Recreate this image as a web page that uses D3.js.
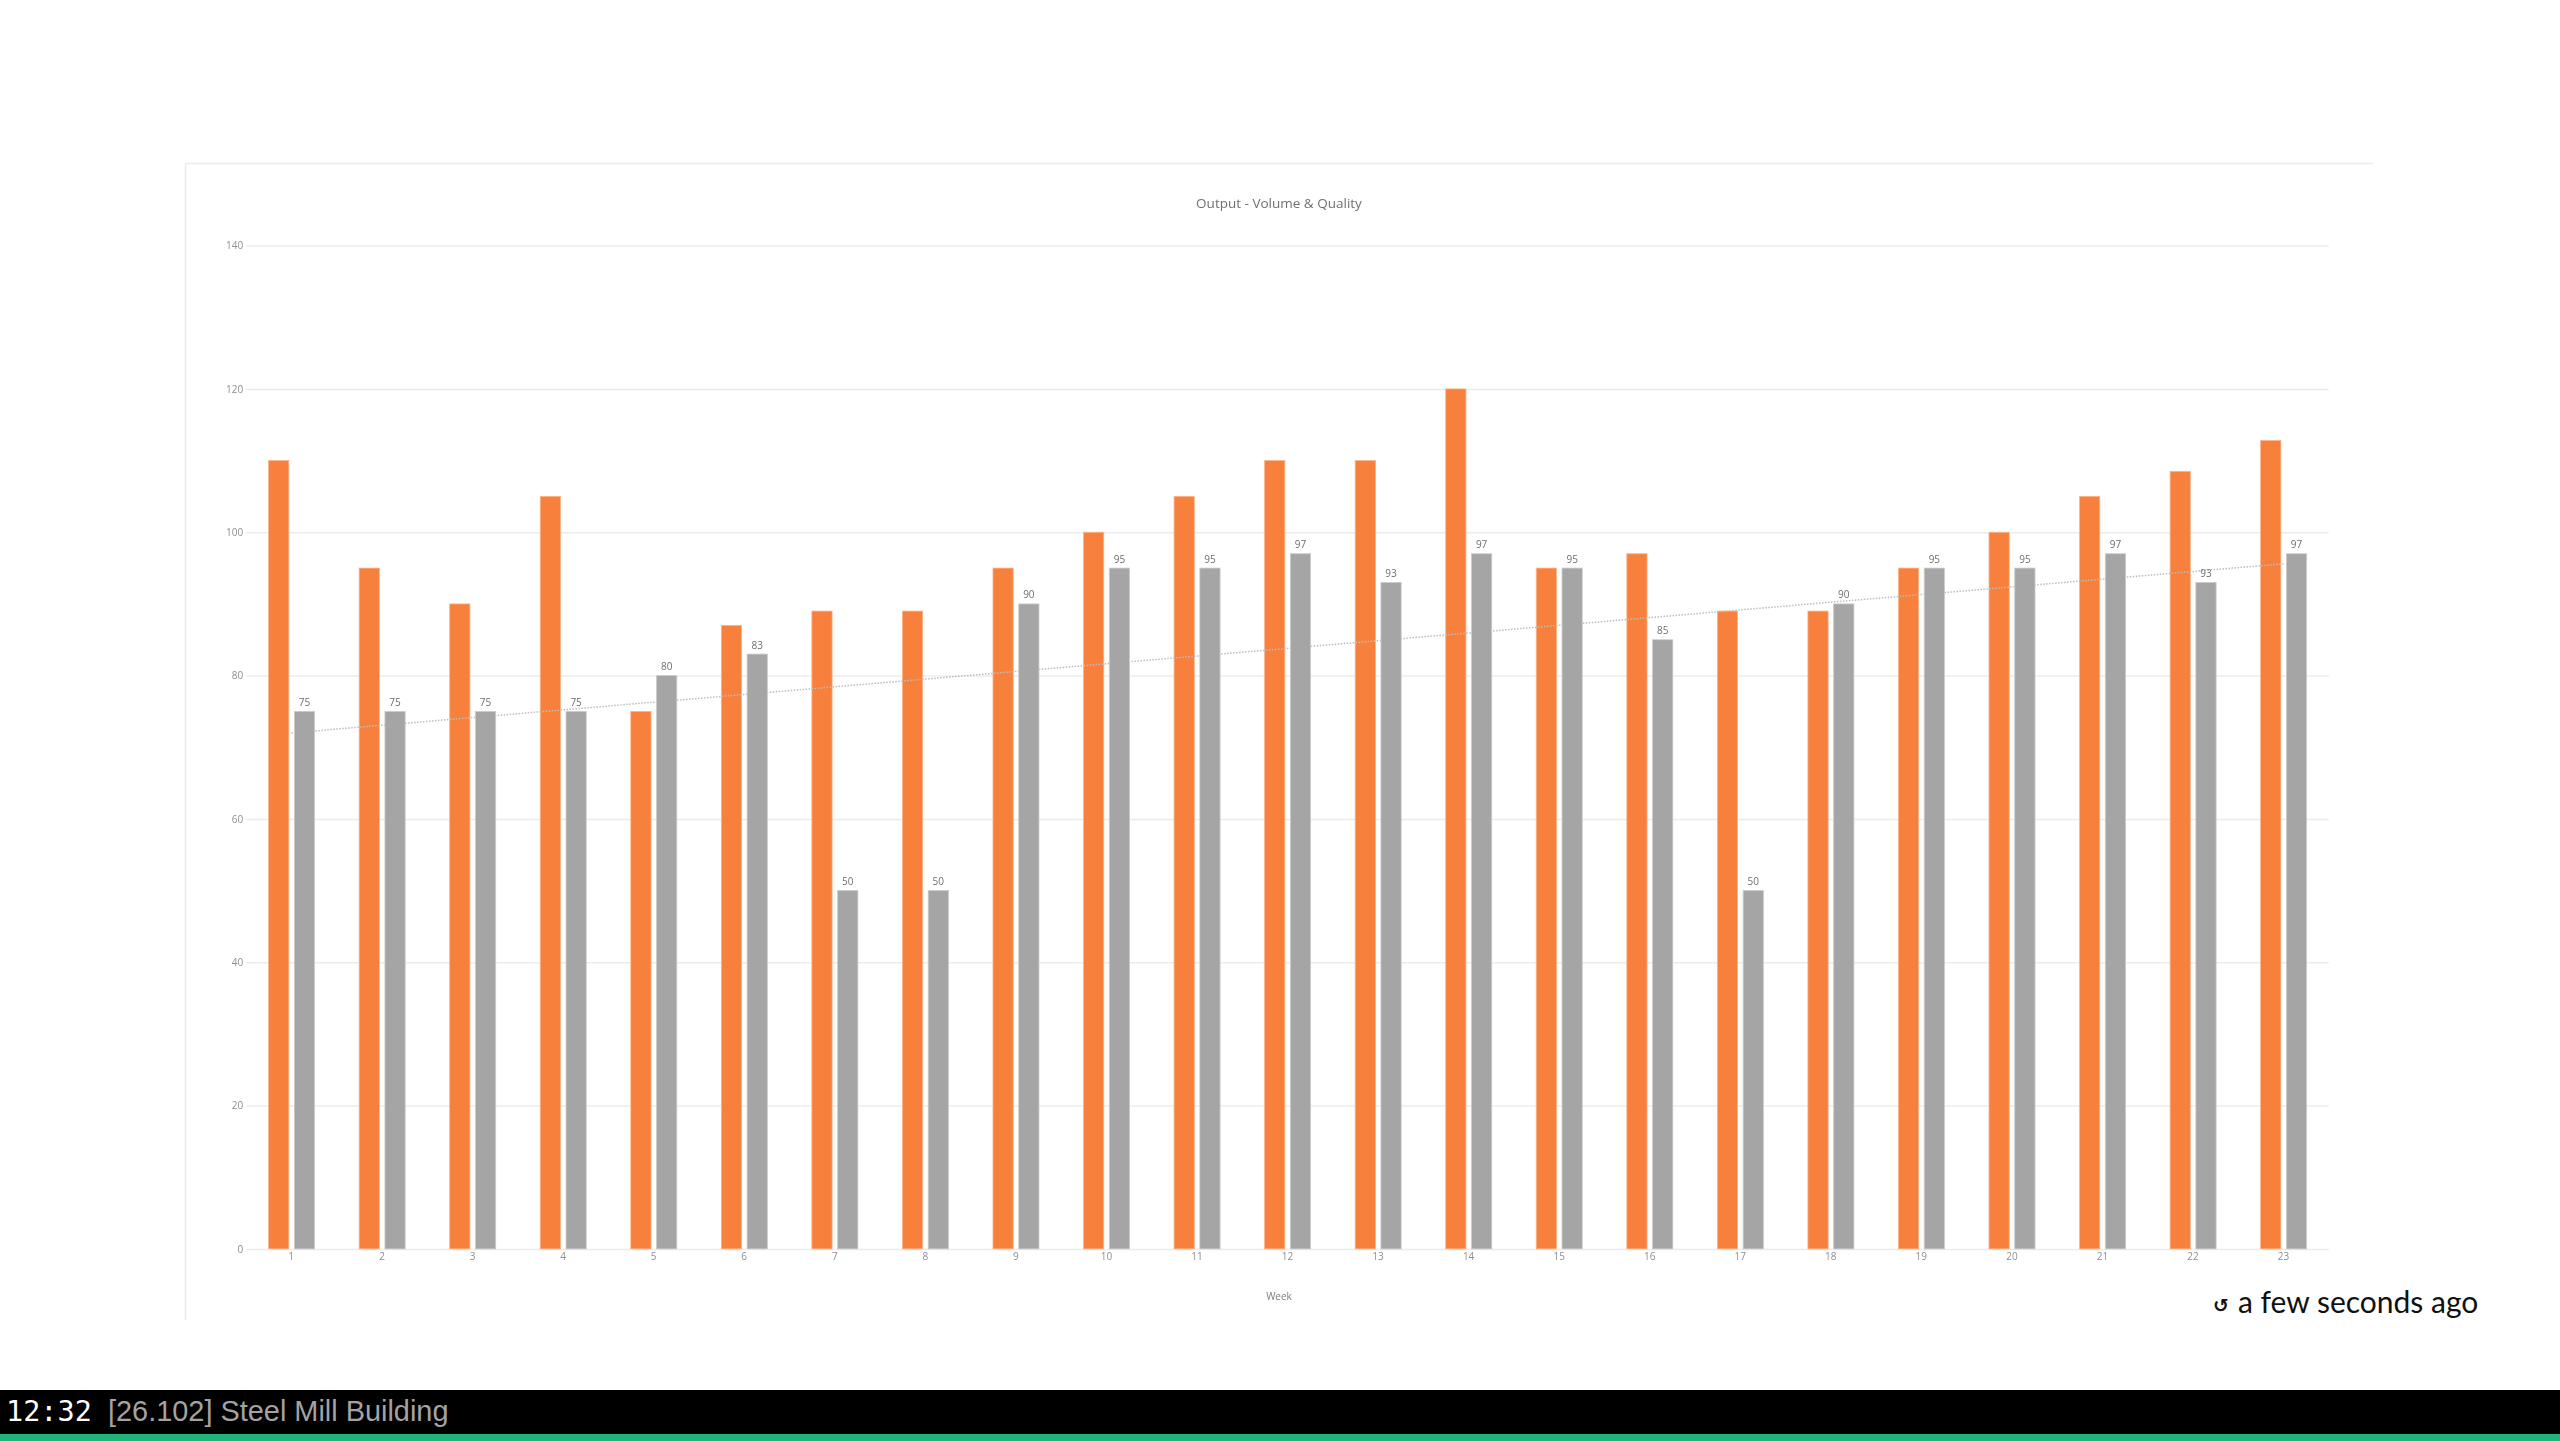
<!DOCTYPE html>
<html>
<head>
<meta charset="utf-8">
<title>Output - Volume & Quality</title>
<script src="https://cdn.jsdelivr.net/npm/d3@7"></script>
<style>
    html, body { margin: 0; padding: 0; background: #fff; overflow: hidden; }
    svg { display: block; }
    .chart text { font-family: "Open Sans", sans-serif; }
</style>
</head>
<body>
<svg id="view"></svg>
<script>
const weeks = ['1','2','3','4','5','6','7','8','9','10','11','12','13','14','15','16','17','18','19','20','21','22','23'];
const volume = [110,95,90,105,75,87,89,89,95,100,105,110,110,120,95,97,89,89,95,100,105,108.5,112.8];
const quality = [75,75,75,75,80,83,50,50,90,95,95,97,93,97,95,85,50,90,95,95,97,93,97];
const trendWeeks = ['1','23'];
const trendValues = [72,95.6];
const yticks = [0,20,40,60,80,100,120,140];

const width = 2560, height = 1441;
const margin = { top: 245.6, right: 231.2, bottom: 192.1, left: 246.2 };

const svg = d3.select('#view')
    .attr('width', width)
    .attr('height', height);

const chart = svg.append('g')
    .attr('class', 'chart')
    .style('filter', 'blur(0.55px)');

// panel edges, only top and left show in the screenshot
chart.append('line')
    .attr('x1', 185.5).attr('x2', 2373)
    .attr('y1', 163.5).attr('y2', 163.5)
    .attr('stroke', '#ececec').attr('stroke-width', 1.5);
chart.append('line')
    .attr('x1', 185.5).attr('x2', 185.5)
    .attr('y1', 163.5).attr('y2', 1320)
    .attr('stroke', '#ececec').attr('stroke-width', 1.5);

const xscale = d3.scaleBand()
    .domain(weeks)
    .range([margin.left, width - margin.right]);

const pair = d3.scaleBand()
    .domain(['volume', 'quality'])
    .range([22.4, 68.4])
    .paddingInner(0.215);

const yscale = d3.scaleLinear()
    .domain([0, 140])
    .range([height - margin.bottom, margin.top]);

const yaxis = d3.axisLeft(yscale)
    .tickValues(yticks)
    .tickSize(-(width - margin.left - margin.right))
    .tickPadding(3);

const xaxis = d3.axisBottom(xscale)
    .tickSize(0)
    .tickPadding(4.5);

const yaxis_group = chart.append('g')
    .attr('transform', `translate(${margin.left}, 0)`)
    .call(yaxis);
yaxis_group.select('.domain').remove();
yaxis_group.selectAll('line').attr('stroke', '#ececec').attr('stroke-width', 1.5);
yaxis_group.selectAll('text').attr('fill', '#8f8f8f').attr('font-size', 10);

const xaxis_group = chart.append('g')
    .attr('transform', `translate(0, ${height - margin.bottom})`)
    .call(xaxis);
xaxis_group.select('.domain').remove();
xaxis_group.selectAll('text').attr('fill', '#8f8f8f').attr('font-size', 10);

chart.append('text')
    .attr('x', 1279).attr('y', 208)
    .attr('text-anchor', 'middle')
    .attr('font-size', 13.5)
    .attr('font-weight', 500)
    .attr('fill', '#707070')
    .text('Output - Volume & Quality');

chart.append('text')
    .attr('x', 1279).attr('y', 1300)
    .attr('text-anchor', 'middle')
    .attr('font-size', 10)
    .attr('fill', '#7c7c7c')
    .text('Week');

// orange goes first, the dotted trend runs over it and under the grey bars
chart.append('g').selectAll('rect')
    .data(volume)
    .join('rect')
    .attr('x', (d, i) => xscale(weeks[i]) + pair('volume'))
    .attr('y', d => yscale(d))
    .attr('width', pair.bandwidth())
    .attr('height', d => yscale(0) - yscale(d))
    .attr('fill', '#f7803c')
    .attr('stroke', '#fbb48a')
    .attr('stroke-width', 0.8);

const line = d3.line()
    .x(d => xscale(d.x) + xscale.bandwidth() / 2)
    .y(d => yscale(d.y));

chart.append('path')
    .attr('d', line(trendWeeks.map((w, i) => ({ x: w, y: trendValues[i] }))))
    .attr('fill', 'none')
    .attr('stroke', '#bdbdbd')
    .attr('stroke-width', 1.5)
    .attr('stroke-dasharray', '1.5 1.5');

chart.append('g').selectAll('rect')
    .data(quality)
    .join('rect')
    .attr('x', (d, i) => xscale(weeks[i]) + pair('quality'))
    .attr('y', d => yscale(d))
    .attr('width', pair.bandwidth())
    .attr('height', d => yscale(0) - yscale(d))
    .attr('fill', '#a5a5a5')
    .attr('stroke', '#cbcbcb')
    .attr('stroke-width', 0.8);

chart.append('g').selectAll('text')
    .data(quality)
    .join('text')
    .attr('x', (d, i) => xscale(weeks[i]) + pair('quality') + pair.bandwidth() / 2)
    .attr('y', d => yscale(d) - 5.5)
    .attr('text-anchor', 'middle')
    .attr('font-size', 10)
    .attr('fill', '#6e6e6e')
    .text(d => d);

// status text and the bar along the bottom
svg.append('text')
    .attr('x', 2213).attr('y', 1312)
    .attr('font-family', '"DejaVu Sans", sans-serif')
    .attr('font-size', 19)
    .attr('font-weight', 700)
    .attr('fill', '#111')
    .text('↺');

svg.append('text')
    .attr('x', 2238).attr('y', 1313)
    .attr('font-family', 'Lato, sans-serif')
    .attr('font-size', 30)
    .attr('fill', '#111')
    .text('a few seconds ago');

svg.append('rect')
    .attr('x', 0).attr('y', 1390)
    .attr('width', width).attr('height', 44)
    .attr('fill', '#000');
svg.append('rect')
    .attr('x', 0).attr('y', 1434)
    .attr('width', width).attr('height', 7)
    .attr('fill', '#1fb57a');

svg.append('text')
    .attr('x', 6).attr('y', 1421)
    .attr('font-family', '"DejaVu Sans Mono", monospace')
    .attr('font-size', 28.5)
    .attr('fill', '#fff')
    .text('12:32');

svg.append('text')
    .attr('x', 108).attr('y', 1421)
    .attr('font-family', '"Liberation Sans", sans-serif')
    .attr('font-size', 28.9)
    .attr('fill', '#a3a3a3')
    .text('[26.102] Steel Mill Building');
</script>
</body>
</html>
